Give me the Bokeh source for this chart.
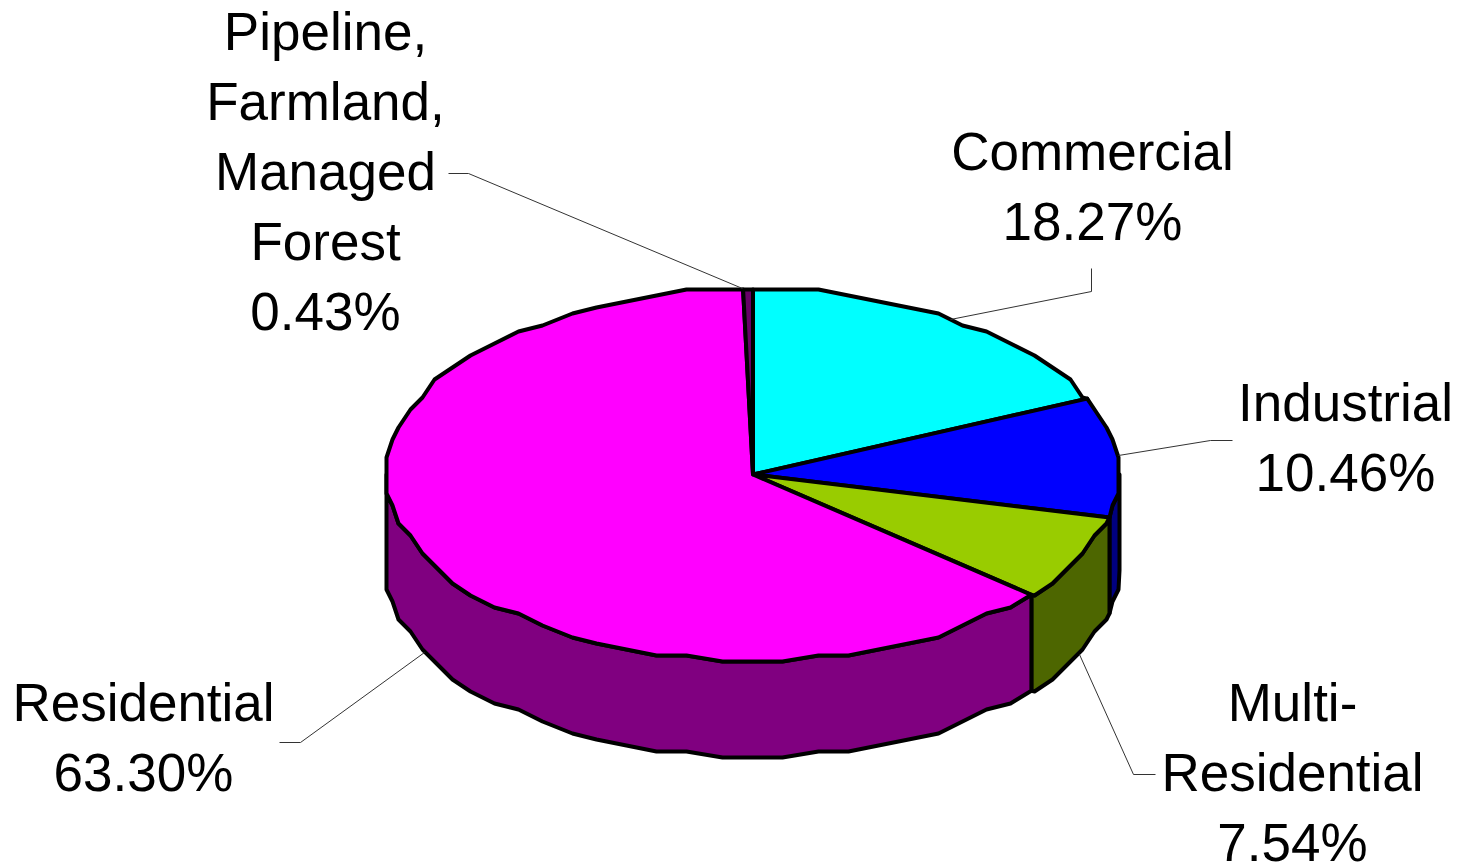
import numpy as np
from bokeh.core.properties import value
from bokeh.embed import file_html
from bokeh.models import ColumnDataSource, Range1d
from bokeh.plotting import figure
from bokeh.resources import INLINE

# Land-use shares, clockwise from twelve o'clock
categories = ["Commercial", "Industrial", "Multi-Residential", "Residential",
              "Pipeline, Farmland, Managed Forest"]
shares = [18.27, 10.46, 7.54, 63.30, 0.43]
top_colors = ["#00ffff", "#0000ff", "#99cc00", "#ff00ff", "#660066"]
side_colors = ["#008080", "#000080", "#4d6600", "#800080", "#330033"]

# Label text lines, with the block's centre x and first baseline
label_lines = [
    ["Commercial", "18.27%"],
    ["Industrial", "10.46%"],
    ["Multi-", "Residential", "7.54%"],
    ["Residential", "63.30%"],
    ["Pipeline,", "Farmland,", "Managed", "Forest", "0.43%"],
]
label_x = [1092, 1345, 1292, 143, 325]
label_y = [151, 402, 702, 702, 31]
LINE_STEP = 70

# Leader lines running from each label to its slice
leader_x = [[1091, 1091, 950], [1232, 1210, 1118], [1155, 1133, 1079],
            [279, 300, 424], [448, 468, 742]]
leader_y = [[268, 291, 319], [440, 440, 455], [774, 774, 654],
            [742, 742, 652], [173, 173, 288]]

# Ellipse geometry of the tilted disc
CX, CY, RX, RY, DEPTH = 752.5, 474.0, 366.5, 185.0, 96.0
GRID = 6.0
SAMPLE_STEP = 5.0


def rim(a0, a1, dy=0.0):
    """Rim points between two clockwise angles (degrees from the top).
    Samples sit on a shared angle grid and snap to a coarse pixel grid, which
    gives the rim its faceted outline while neighbouring faces stay joined."""
    inner = np.arange(np.ceil(a0 / SAMPLE_STEP), np.floor(a1 / SAMPLE_STEP) + 1) * SAMPLE_STEP
    inner = inner[(inner > a0) & (inner < a1)]
    t = np.radians(np.concatenate([[a0], inner, [a1]]))
    x = CX + RX * np.sin(t)
    y = CY - RY * np.cos(t)
    left, top = CX - RX, CY - RY
    sx = left + np.round((x - left) / GRID) * GRID
    sy = top + np.round((y - top) / GRID) * GRID
    sx[0], sy[0], sx[-1], sy[-1] = x[0], y[0], x[-1], y[-1]
    return sx.tolist(), (sy + dy).tolist()


edges = np.concatenate([[0.0], np.cumsum(shares)])
edges = edges / edges[-1] * 360.0

p = figure(width=1469, height=866, output_backend="svg", toolbar_location=None,
           x_range=Range1d(0, 1469), y_range=Range1d(866, 0),
           min_border=0, outline_line_color=None, background_fill_color="white")
p.xaxis.visible = False
p.yaxis.visible = False
p.grid.visible = False

# Front wall of the disc: only the part between 90 and 270 degrees faces the viewer
for a0, a1, col in zip(edges[:-1], edges[1:], side_colors):
    lo, hi = max(a0, 90.0), min(a1, 270.0)
    if lo >= hi:
        continue
    tx, ty = rim(lo, hi)
    bx, by = rim(lo, hi, DEPTH)
    p.patch(tx + bx[::-1], ty + by[::-1], fill_color=col, line_color="black",
            line_width=4, line_join="round")

# Top face slices
for a0, a1, col in zip(edges[:-1], edges[1:], top_colors):
    rx_, ry_ = rim(a0, a1)
    p.patch([CX] + rx_, [CY] + ry_, fill_color=col, line_color="black",
            line_width=4, line_join="round")

p.multi_line(leader_x, leader_y, line_color="#333333", line_width=1)

text_x, text_y, text_s = [], [], []
for lines, x, y in zip(label_lines, label_x, label_y):
    for i, s in enumerate(lines):
        text_x.append(x)
        text_y.append(y + i * LINE_STEP)
        text_s.append(s)
p.text(x="x", y="y", text="s", source=ColumnDataSource(dict(x=text_x, y=text_y, s=text_s)),
       text_font=value("Liberation Sans"), text_font_size="53px", text_color="black",
       text_align="center", text_baseline="alphabetic")

open("out.html", "w").write(file_html(p, INLINE))
